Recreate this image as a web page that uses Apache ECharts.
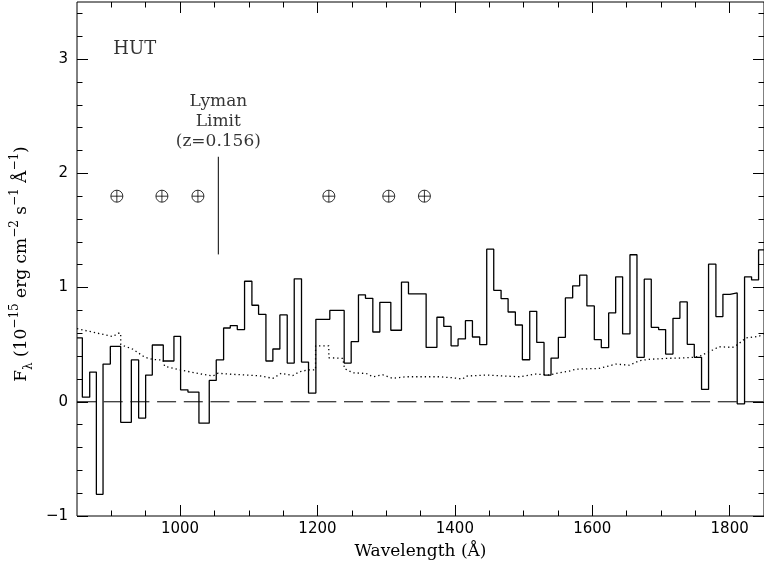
<!DOCTYPE html>
<html><head><meta charset="utf-8">
<script src="https://cdn.jsdelivr.net/npm/echarts@6/dist/echarts.min.js"></script>
<style>html,body{margin:0;padding:0;background:#fff}#c{width:764px;height:569px}</style>
</head><body><div id="c"></div>
<script>
// Bin edges (Å) and flux per bin (1e-15 erg cm^-2 s^-1 Å^-1)
const binEdges = [850, 857.8, 868.5, 878.2, 887.9, 898.5, 913.6, 929.1, 939.7, 949.9,
  959.6, 975.6, 991.1, 1000.8, 1011.5, 1027.5, 1042.5, 1052.7, 1063.4, 1073.1,
  1083.3, 1093.9, 1104.6, 1114.3, 1125.0, 1135.1, 1145.3, 1156.0, 1166.2, 1176.8,
  1187.0, 1197.7, 1218.0, 1238.9, 1249.1, 1259.7, 1269.9, 1280.6, 1290.8, 1306.8,
  1322.3, 1332.5, 1358.2, 1373.9, 1383.9, 1394.5, 1404.7, 1415.4, 1425.6, 1436.2,
  1446.4, 1456.6, 1467.3, 1477.5, 1488.1, 1498.3, 1509.0, 1519.2, 1529.8, 1540.0,
  1550.7, 1560.9, 1571.5, 1581.7, 1592.2, 1603.0, 1613.2, 1623.9, 1634.1, 1644.2,
  1654.9, 1665.1, 1675.7, 1685.9, 1696.6, 1706.8, 1717.5, 1727.6, 1738.3, 1748.5,
  1759.1, 1769.3, 1780.0, 1790.2, 1800.4, 1811.0, 1821.7, 1831.9, 1842.1, 1850];
const fluxValues = [0.56, 0.04, 0.26, -0.81, 0.33, 0.485, -0.18, 0.366, -0.143, 0.234,
  0.497, 0.357, 0.573, 0.105, 0.085, -0.187, 0.187, 0.366, 0.646, 0.667,
  0.632, 1.055, 0.845, 0.766, 0.357, 0.462, 0.76, 0.339, 1.076, 0.348,
  0.076, 0.722, 0.80, 0.339, 0.526, 0.936, 0.906, 0.611, 0.871, 0.626,
  1.047, 0.945, 0.476, 0.74, 0.66, 0.49, 0.55, 0.71, 0.567, 0.50,
  1.336, 0.976, 0.903, 0.786, 0.672, 0.368, 0.792, 0.52, 0.234, 0.383,
  0.564, 0.909, 1.015, 1.108, 0.839, 0.544, 0.474, 0.778, 1.094, 0.594,
  1.287, 0.389, 1.073, 0.652, 0.632, 0.418, 0.731, 0.874, 0.503, 0.389,
  0.108, 1.205, 0.746, 0.941, 0.953, -0.018, 1.094, 1.067, 1.33];

// Error spectrum (dotted)
const errWave = [850, 873, 888, 902, 910, 913.6, 913.7, 931.5, 948.5, 960.5, 975, 977.6, 999.4,
  1028.5, 1047.8, 1055, 1077, 1086.7, 1115.7, 1135, 1147.3, 1164.2, 1173.9, 1186, 1197.2, 1197.3,
  1216.5, 1216.6, 1236.9, 1239.4, 1251.5, 1271, 1280.5, 1295, 1309.6, 1329, 1377.6, 1396.9,
  1411.4, 1416.4, 1445.5, 1494, 1518, 1537.6, 1552, 1566.6, 1576.4, 1610.3, 1620, 1634.6,
  1654, 1668.5, 1683, 1707.3, 1726.6, 1748.5, 1758.2, 1775.1, 1784.8, 1804.2, 1811.4,
  1823.7, 1843, 1850];
const errFlux = [0.64, 0.61, 0.59, 0.57, 0.60, 0.60, 0.50, 0.46, 0.39, 0.37, 0.365, 0.31, 0.28,
  0.245, 0.225, 0.25, 0.24, 0.237, 0.228, 0.205, 0.249, 0.23, 0.263, 0.278, 0.28, 0.49,
  0.49, 0.385, 0.38, 0.29, 0.254, 0.248, 0.219, 0.236, 0.205, 0.219, 0.219, 0.21,
  0.199, 0.225, 0.234, 0.219, 0.243, 0.234, 0.254, 0.269, 0.286, 0.292, 0.307, 0.33,
  0.32, 0.36, 0.372, 0.38, 0.383, 0.389, 0.404, 0.453, 0.482, 0.476, 0.5,
  0.559, 0.573, 0.6];

// Earth (airglow) symbols
const earthWave = [908, 973.6, 1026, 1216.6, 1303.8, 1355.7];
const earthLevel = 1.8;
// Lyman limit marker
const lymanWave = 1055.7;
const lymanRange = [1.29, 2.145];
const hutPos = [934, 3.084];

// Ticks
const xMajorTicks = [1000, 1200, 1400, 1600, 1800];
const xMinorTicks = [900, 950, 1050, 1100, 1150, 1250, 1300, 1350, 1450, 1500, 1550, 1650, 1700, 1750];
const yMajorTicks = [-1, 0, 1, 2, 3];
const yMinorTicks = [-0.8, -0.6, -0.4, -0.2, 0.2, 0.4, 0.6, 0.8, 1.2, 1.4, 1.6, 1.8,
  2.2, 2.4, 2.6, 2.8, 3.2, 3.4];

const stepData = fluxValues.map((v, i) => [binEdges[i], v]);
stepData.push([binEdges[binEdges.length - 1], fluxValues[fluxValues.length - 1]]);
const errData = errWave.map((w, i) => [w, errFlux[i]]);

const black = '#000';
const tickFont = 'DejaVu Sans';
const serif = 'DejaVu Serif';

function xAx(pos, ticks, len, labels) {
  return {
    type: 'value', position: pos, min: 850, max: 1850,
    axisLine: { show: false, onZero: false }, splitLine: { show: false },
    axisTick: { show: true, inside: true, length: len, customValues: ticks, lineStyle: { color: black, width: 1 } },
    axisLabel: labels ? { show: true, customValues: ticks, color: black, fontFamily: tickFont, fontSize: 15, margin: 6,
      formatter: v => String(v) } : { show: false }
  };
}
function yAx(pos, ticks, len, labels) {
  return {
    type: 'value', position: pos, min: -1, max: 3.5,
    axisLine: { show: false, onZero: false }, splitLine: { show: false },
    axisTick: { show: true, inside: true, length: len, customValues: ticks, lineStyle: { color: black, width: 1 } },
    axisLabel: labels ? { show: true, customValues: ticks, color: black, fontFamily: tickFont, fontSize: 15, margin: 9,
      formatter: v => (v < 0 ? '\u2212' + Math.abs(v) : String(v)) } : { show: false }
  };
}

const xAxes = [xAx('bottom', xMajorTicks, 11, true), xAx('bottom', xMinorTicks, 5.5, false),
  xAx('top', xMajorTicks, 11, false), xAx('top', xMinorTicks, 5.5, false)];
xAxes[0].name = 'Wavelength (\u00C5)';
xAxes[0].nameLocation = 'middle';
xAxes[0].nameGap = 27;
xAxes[0].nameTextStyle = { color: black, fontFamily: serif, fontSize: 17 };

const yAxes = [yAx('left', yMajorTicks, 11, true), yAx('left', yMinorTicks, 5.5, false),
  yAx('right', yMajorTicks, 11, false), yAx('right', yMinorTicks, 5.5, false)];
yAxes[0].name = '{n|F}{sub|\u03bb}{n| (10}{sup|\u221215}{n| erg cm}{sup|\u22122}{n| s}{sup|\u22121}{n| \u00C5}{sup|\u22121}{n|)}';
yAxes[0].nameLocation = 'middle';
yAxes[0].nameRotate = 90;
yAxes[0].nameGap = 34;
yAxes[0].nameTextStyle = {
  color: black, fontFamily: serif, fontSize: 17, padding: [0, 10, 0, 0],
  rich: {
    n: { fontFamily: serif, fontSize: 17, color: black, lineHeight: 26, verticalAlign: 'middle' },
    sup: { fontFamily: serif, fontSize: 12, color: black, lineHeight: 13, verticalAlign: 'top' },
    sub: { fontFamily: serif, fontSize: 12, color: black, lineHeight: 13, verticalAlign: 'bottom' }
  }
};

const chart = echarts.init(document.getElementById('c'), null, { renderer: 'canvas' });
chart.setOption({
  animation: false,
  backgroundColor: '#fff',
  grid: { left: 77, top: 2, width: 687, height: 514, show: true, borderColor: black, borderWidth: 1, backgroundColor: 'transparent' },
  xAxis: xAxes,
  yAxis: yAxes,
  series: [
    { type: 'line', step: 'end', data: stepData, symbol: 'none', lineStyle: { color: black, width: 1.3 }, z: 5 },
    { type: 'line', data: errData, symbol: 'none', lineStyle: { color: black, width: 1.3, type: [1.3, 3] }, z: 4 },
    { type: 'line', data: [[850, 0], [1850, 0]], symbol: 'none', lineStyle: { color: black, width: 1, type: [19, 7.7] }, z: 3 },
    { type: 'line', data: [[lymanWave, lymanRange[0]], [lymanWave, lymanRange[1]]], symbol: 'none', lineStyle: { color: black, width: 1 }, z: 3 },
    { type: 'scatter', data: earthWave.map(w => [w, earthLevel]), symbol: 'path://M10,0A10,10 0 1,1 -10,0A10,10 0 1,1 10,0ZM-10,0L10,0M0,-10L0,10',
      symbolSize: 12, itemStyle: { color: 'rgba(0,0,0,0)', borderColor: black, borderWidth: 1 }, z: 6 },
    { type: 'scatter', data: [hutPos], symbolSize: 0, silent: true,
      label: { show: true, position: 'inside', formatter: 'HUT', color: black, fontFamily: serif, fontSize: 18 } },
    { type: 'scatter', data: [[lymanWave, lymanRange[1]]], symbolSize: 0, silent: true,
      label: { show: true, position: 'top', distance: 5, formatter: 'Lyman\nLimit\n(z=0.156)', color: black,
        fontFamily: serif, fontSize: 17, lineHeight: 20, align: 'center' } }
  ]
});
</script></body></html>
